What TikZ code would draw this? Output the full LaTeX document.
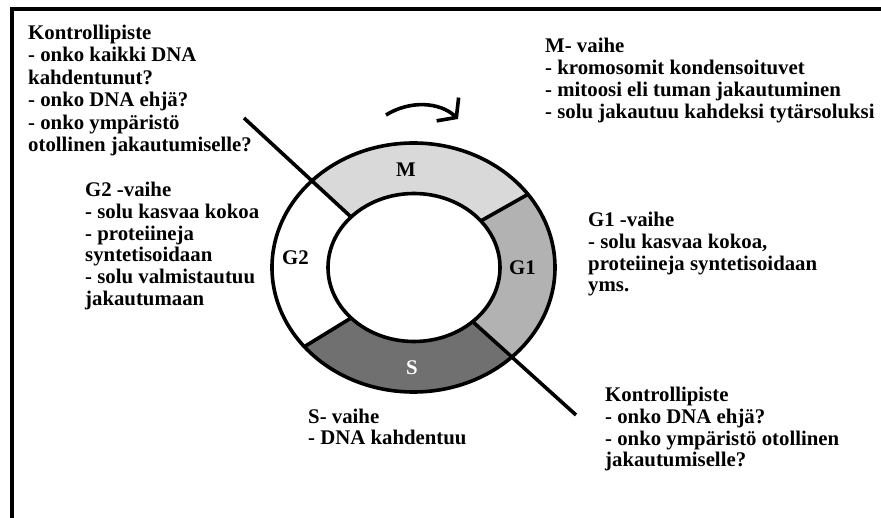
\documentclass[tikz,border=0pt]{standalone}
\usepackage{fontspec}
\setmainfont{Liberation Serif}
\usetikzlibrary{arrows.meta}
\definecolor{mgray}{RGB}{217,217,217}
\definecolor{ggray}{RGB}{178,178,178}
\definecolor{sgray}{RGB}{112,112,112}
\tikzset{x=1pt,y=1pt,
  info/.style={anchor=base west,align=left,inner sep=0pt,font=\fontsize{20.8}{21.7}\selectfont\bfseries},
  phase/.style={inner sep=0pt,font=\fontsize{20.8}{21.7}\selectfont\bfseries},
  ring/.style={line width=3.6pt}}

\begin{document}
\begin{tikzpicture}
        \useasboundingbox (0,0) rectangle (881,-518);
        \draw[line width=4pt] (882,-9.5) -- (12,-9.5) -- (12,-519);
        \coordinate (c) at (413.5,-267.5);
        \coordinate (ci) at (414,-267.5);
        \coordinate (k1) at (244,-118);
        \coordinate (k2) at (576,-415);
        \coordinate (a1) at (386,-115);
        \coordinate (a2) at (458,-119);
        % sectors
        \fill[mgray] ([shift={(36:141.5 and 124.5)}]c) arc[start angle=36,end angle=137,x radius=141.5,y radius=124.5]
            -- ([shift={(137:86 and 74)}]ci) arc[start angle=137,end angle=39,x radius=86,y radius=74] -- cycle;
        \fill[ggray] ([shift={(-47:141.5 and 124.5)}]c) arc[start angle=-47,end angle=36,x radius=141.5,y radius=124.5]
            -- ([shift={(39:86 and 74)}]ci) arc[start angle=39,end angle=-47,x radius=86,y radius=74] -- cycle;
        \fill[sgray] ([shift={(-140.5:141.5 and 124.5)}]c) arc[start angle=-140.5,end angle=-47,x radius=141.5,y radius=124.5]
            -- ([shift={(-47:86 and 74)}]ci) arc[start angle=-47,end angle=-137,x radius=86,y radius=74] -- cycle;
        \draw[ring] (c) ellipse[x radius=141.5,y radius=124.5];
        \draw[ring] (ci) ellipse[x radius=86,y radius=74];
        \draw[ring] ([shift={(36:141.5 and 124.5)}]c) -- ([shift={(39:86 and 74)}]ci);
        \draw[ring] ([shift={(-140.5:141.5 and 124.5)}]c) -- ([shift={(-137:86 and 74)}]ci);
        \draw[ring] (k1) -- ([shift={(137:86 and 74)}]ci);
        \draw[ring] ([shift={(-47:86 and 74)}]ci) -- (k2);
        \draw[ring,-{Straight Barb[length=12pt,width=32pt]}] (a1) .. controls (410,-100) and (440,-102) .. (a2);
        % phase labels
        \node[phase] (m) at (406,-170) {M};
        \node[phase] (g2) at (295.5,-258) {G2};
        \node[phase] (g1) at (522.5,-268) {G1};
        \node[phase,text=white] (s) at (412,-368) {S};
        % texts (anchored at the last line)
        \node[info,font=\fontsize{20.8}{22.5}\selectfont\bfseries] (kp1) at (28,-151.8) {Kontrollipiste\\- onko kaikki DNA\\kahdentunut?\\- onko DNA ehjä?\\- onko ympäristö\\otollinen jakautumiselle?};
        \node[info] (mv) at (545,-118.1) {M- vaihe\\- kromosomit kondensoituvet\\- mitoosi eli tuman jakautuminen\\- solu jakautuu kahdeksi tytärsoluksi};
        \node[info] (g2v) at (85,-305.2) {G2 -vaihe\\- solu kasvaa kokoa\\- proteiineja\\syntetisoidaan\\- solu valmistautuu\\jakautumaan};
        \node[info] (g1v) at (588,-291.8) {G1 -vaihe\\- solu kasvaa kokoa,\\proteiineja syntetisoidaan\\yms.};
        \node[info] (sv) at (308,-445) {S- vaihe\\- DNA kahdentuu};
        \node[info] (kp2) at (605,-466.8) {Kontrollipiste\\- onko DNA ehjä?\\- onko ympäristö otollinen\\jakautumiselle?};
    \end{tikzpicture}
\end{document}
